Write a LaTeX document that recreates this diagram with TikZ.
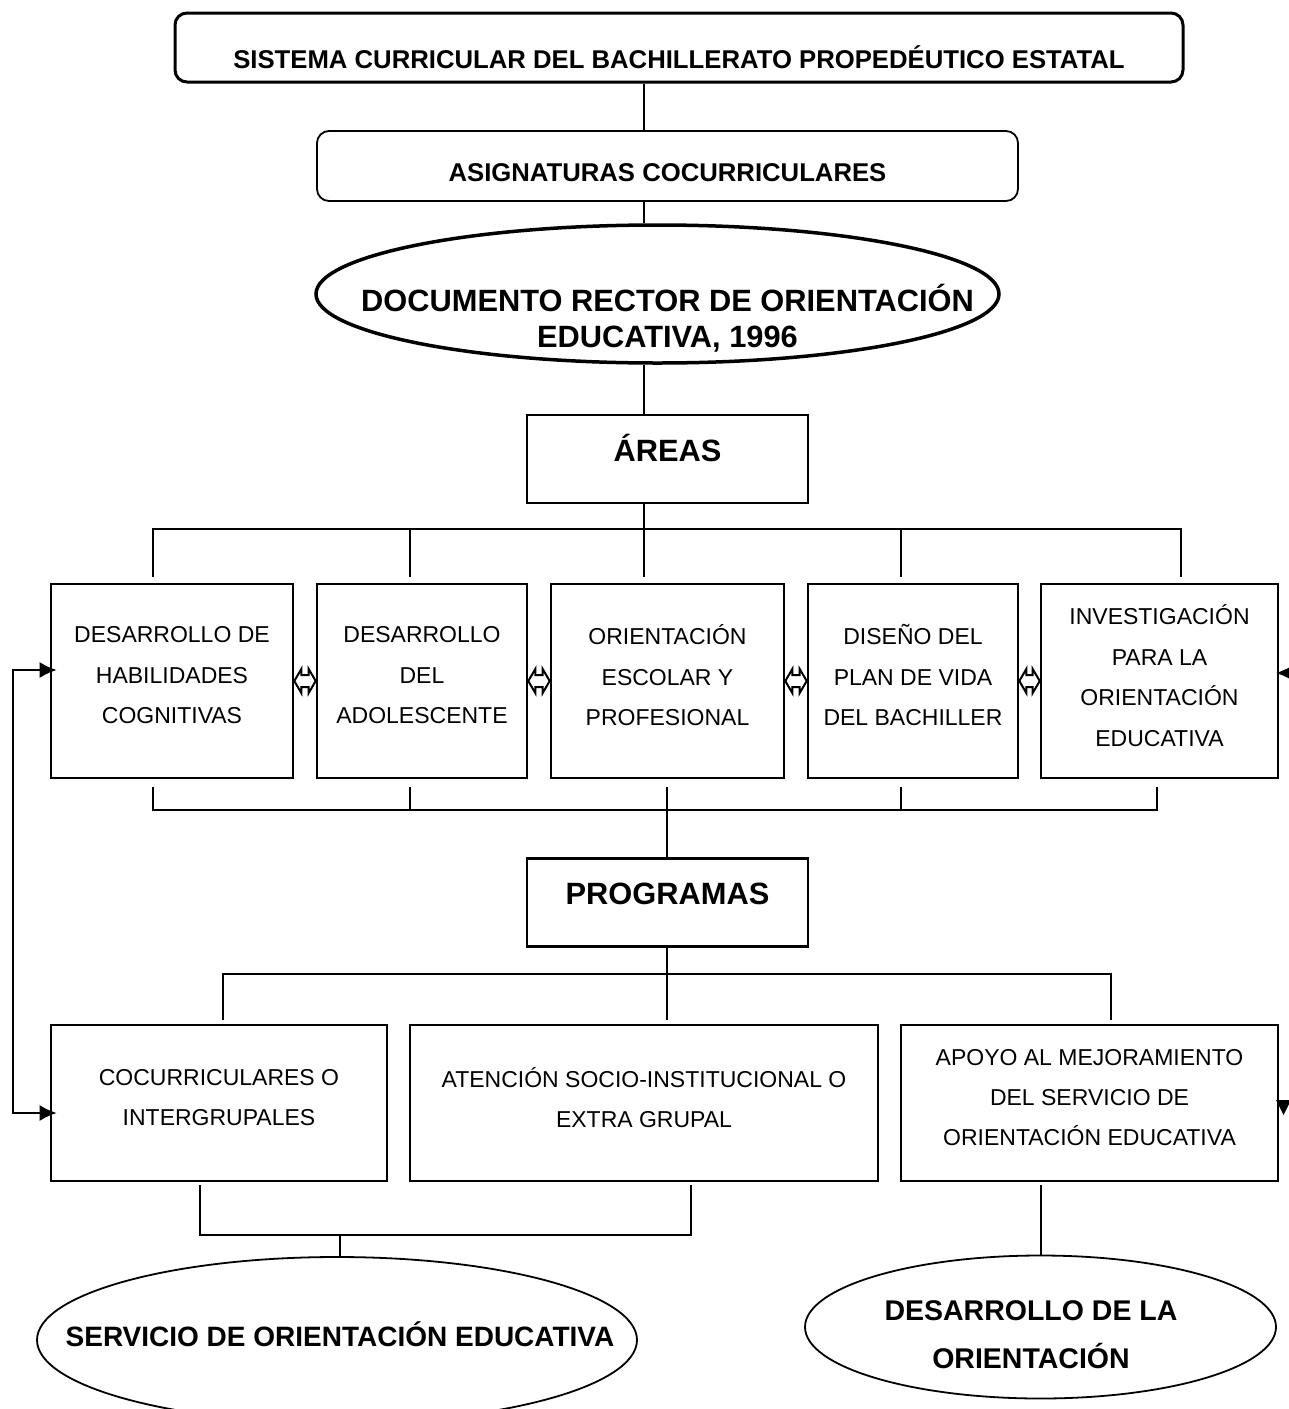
\documentclass[tikz,border=0pt]{standalone}
\usepackage{fontspec}
\setmainfont{Liberation Sans}
\usetikzlibrary{shapes.geometric,calc,arrows.meta}
\newcommand{\dblarrowshape}[2]{%
  \draw[dblarr] (#1.east) -- ($(#1.east)+(7,-12)$) -- ($(#1.east)+(7,-6)$) -- ($(#2.west)+(-7,-6)$) -- ($(#2.west)+(-7,-12)$) -- (#2.west) -- ($(#2.west)+(-7,12)$) -- ($(#2.west)+(-7,6)$) -- ($(#1.east)+(7,6)$) -- ($(#1.east)+(7,12)$) -- cycle;}
\begin{document}
\begin{tikzpicture}[x=1pt,y=-1pt,
  box/.style={draw, line width=2.6pt, inner sep=0pt},
  txt/.style={label={[align=center, yshift=5.5pt, font=\fontsize{23}{40.5}\selectfont]center:{#1}}},
  txtb/.style={label={[align=center, yshift=5.5pt, font=\fontsize{23}{40}\selectfont]center:{#1}}},
  titlebox/.style={draw, inner sep=0pt, rounded corners=12pt, font=\bfseries\fontsize{25.7}{30}\selectfont, text depth=0pt},
  headbox/.style={draw, line width=2.6pt, inner sep=0pt, minimum width=281pt, minimum height=88pt, font=\bfseries\fontsize{30.8}{35}\selectfont, text height=22pt},
  oval/.style={draw, ellipse, inner sep=0pt},
  conn/.style={line width=1.8pt},
  dblarr/.style={line width=2pt, line join=miter},
  bigtip/.tip={Latex[length=17pt,width=16pt]},
]
\useasboundingbox (0,0) rectangle (1289,1409);

% ---------- nodes ----------
\node[titlebox, line width=3pt, minimum width=1008pt, minimum height=69pt, text height=41.5pt] (sis) at (679,47.5)
  {SISTEMA CURRICULAR DEL BACHILLERATO PROPEDÉUTICO ESTATAL};
\node[titlebox, line width=1.8pt, minimum width=701pt, minimum height=70pt, text height=30.4pt] (asig) at (667.5,166)
  {ASIGNATURAS COCURRICULARES};
\node[oval, line width=3.5pt, minimum width=683pt, minimum height=138pt,
  label={[name=doct, align=center, xshift=10pt, yshift=-24pt, font=\bfseries\fontsize{30.8}{36}\selectfont]center:{DOCUMENTO RECTOR DE ORIENTACIÓN\\EDUCATIVA, 1996}}] (doc) at (657.5,294) {};
\node[headbox, text depth=18pt] (areas) at (667.5,459) {ÁREAS};

\node[box, minimum width=242pt, minimum height=194pt, txt={DESARROLLO DE\\HABILIDADES\\COGNITIVAS}] (b1) at (172,681) {};
\node[box, minimum width=210pt, minimum height=194pt, txt={DESARROLLO\\DEL\\ADOLESCENTE}] (b2) at (422,681) {};
\node[box, minimum width=233pt, minimum height=194pt, txt={ORIENTACIÓN\\ESCOLAR Y\\PROFESIONAL}] (b3) at (667.5,681) {};
\node[box, minimum width=210pt, minimum height=194pt, txt={DISEÑO DEL\\PLAN DE VIDA\\DEL BACHILLER}] (b4) at (913,681) {};
\node[box, minimum width=237pt, minimum height=194pt, txt={INVESTIGACIÓN\\PARA LA\\ORIENTACIÓN\\EDUCATIVA}] (b5) at (1159.5,681) {};

\node[headbox, text depth=19pt] (prog) at (667.5,902.5) {PROGRAMAS};

\node[box, minimum width=336pt, minimum height=156pt, txtb={COCURRICULARES O\\INTERGRUPALES}] (r1) at (219,1103) {};
\node[box, minimum width=468pt, minimum height=156pt, txtb={ATENCIÓN SOCIO-INSTITUCIONAL O\\EXTRA GRUPAL}] (r2) at (644,1103) {};
\node[box, minimum width=377pt, minimum height=156pt, txtb={APOYO AL MEJORAMIENTO\\DEL SERVICIO DE\\ORIENTACIÓN EDUCATIVA}] (r3) at (1089.5,1103) {};

\node[oval, line width=1.8pt, minimum width=600pt, minimum height=166pt,
  label={[name=sevt, xshift=3pt, yshift=6pt, font=\bfseries\fontsize{28}{33}\selectfont]center:{SERVICIO DE ORIENTACIÓN EDUCATIVA}}] (sev) at (337,1340) {};
\node[oval, line width=1.8pt, minimum width=471pt, minimum height=143pt,
  label={[name=devt, align=center, xshift=-9.5pt, yshift=-8pt, font=\bfseries\fontsize{28.5}{48}\selectfont]center:{DESARROLLO DE LA\\ORIENTACIÓN}}] (dev) at (1040.5,1327) {};

% ---------- helper coordinates ----------
\coordinate (mx) at (644,0);
\coordinate (px) at (667,0);
\coordinate (topend) at (0,577);
\coordinate (botstart) at (0,787);
\coordinate (pend) at (0,1020);
\coordinate (loopx) at (13,0);
\coordinate (loopA) at (0,670);
\coordinate (loopB) at (0,1113);
\coordinate (offpage) at (1310,673);
\coordinate (edgetip) at (1276,673);

% ---------- connectors ----------
\draw[conn] (sis.south -| mx) -- (asig.north -| mx);
\draw[conn] (asig.south -| mx) -- (doc.north -| mx);
\draw[conn] (doc.south -| mx) -- (areas.north -| mx);
\draw[conn] (areas.south -| mx) -- (mx |- topend);
\draw[conn] (153,577) |- (1181,529) -- (1181,577);
\draw[conn] (410,529) -- (410,577);
\draw[conn] (901,529) -- (901,577);

\draw[conn] (153,787) |- (1157,810) -- (1157,787);
\draw[conn] (410,787) -- (410,810);
\draw[conn] (901,787) -- (901,810);
\draw[conn] (px |- botstart) -- (prog.north -| px);

\draw[conn] (prog.south -| px) -- (px |- pend);
\draw[conn] (223,1020) |- (1111,974) -- (1111,1020);

\draw[conn] (200,1185) |- (691,1235) -- (691,1185);
\draw[conn] (340,1235) -- (sev.north -| 340,0);
\draw[conn] (1041,1185) -- (dev.north -| 1041,0);

% feedback loop on the left
\draw[conn, bigtip-bigtip, shorten <=-7pt, shorten >=-7pt]
  (b1.west |- loopA) -- (loopx |- loopA) -- (loopx |- loopB) -- (r1.west |- loopB);

% partial arrow heads at the right edge
\draw[conn, -bigtip] (offpage) -- (edgetip);
\fill (1276,1100) -- (1291,1100) -- (1283.5,1115) -- cycle;

% double arrows between the areas
\dblarrowshape{b1}{b2}
\dblarrowshape{b2}{b3}
\dblarrowshape{b3}{b4}
\dblarrowshape{b4}{b5}
\end{tikzpicture}
\end{document}
